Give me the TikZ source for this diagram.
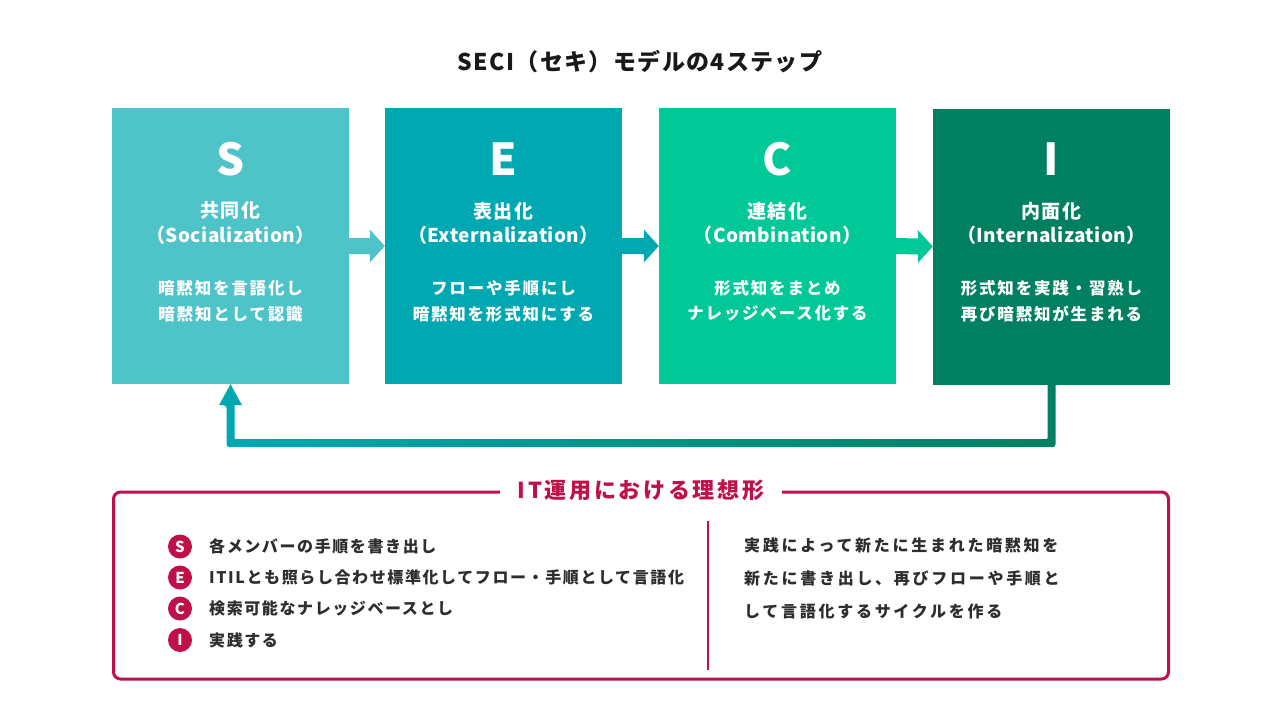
\documentclass[tikz,border=0pt]{standalone}
\usepackage{fontspec}
\setmainfont{Noto Sans CJK JP}
\newfontfamily\jptitle{Noto Sans CJK JP}[LetterSpace=6]
\newfontfamily\jpname{Noto Sans CJK JP}[LetterSpace=8]
\newfontfamily\jpen{Noto Sans CJK JP}[LetterSpace=2]
\newfontfamily\jpdesc{Noto Sans CJK JP}[LetterSpace=11]
\newfontfamily\jpitem{Noto Sans CJK JP}[LetterSpace=10]
\newfontfamily\jpright{Noto Sans CJK JP}[LetterSpace=17]
\newfontfamily\jpptitle{Noto Sans CJK JP}[LetterSpace=12]
\usetikzlibrary{calc}
\definecolor{cS}{RGB}{78,195,200}
\definecolor{cE}{RGB}{0,168,178}
\definecolor{cC}{RGB}{0,200,150}
\definecolor{cI}{RGB}{0,128,96}
\definecolor{crim}{RGB}{192,16,72}
\definecolor{txt}{RGB}{45,45,45}
\definecolor{ttl}{RGB}{25,25,25}
\tikzset{
  seci/.style={draw=none, inner sep=0pt, minimum width=237pt, minimum height=276pt},
  letter/.style={inner sep=0pt, text=white, font=\bfseries\fontsize{44}{48}\selectfont},
  nm/.style={inner sep=0pt, text=white, font=\jpname\bfseries\fontsize{19}{22}\selectfont},
  en/.style={inner sep=0pt, text=white, font=\jpen\bfseries\fontsize{19}{22}\selectfont},
  desc/.style={inner sep=0pt, text=white, font=\jpdesc\bfseries\fontsize{16.5}{20}\selectfont},
  panel/.style={draw=crim, line width=3pt, rounded corners=7pt, minimum width=1055pt, minimum height=187pt, inner sep=0pt},
  ptitle/.style={fill=white, text=crim, inner xsep=18pt, inner ysep=3pt, font=\jpptitle\bfseries\fontsize{22}{25}\selectfont},
  badge/.style={circle, fill=crim, minimum size=24pt, inner sep=0pt, text=white, font=\bfseries\fontsize{15}{16}\selectfont},
  item/.style={anchor=west, inner sep=0pt, text=txt, font=\jpitem\bfseries\fontsize{16}{19}\selectfont},
  rtext/.style={anchor=west, inner sep=0pt, text=txt, font=\jpright\bfseries\fontsize{16}{19}\selectfont},
}
\newcommand\secibox[9]{%
  \node[seci, fill=#4] (#1) at (#2,#3) {};
  \node[letter] (#1-l) at ($(#1.north)+(0,51)$) {#5};
  \node[nm] (#1-n) at ($(#1.north)+(0,103)$) {#6};
  \node[en] (#1-e) at ($(#1.north)+(0,127)$) {#7};
  \node[desc] (#1-d1) at ($(#1.north)+(0,180)$) {#8};
  \node[desc] (#1-d2) at ($(#1.north)+(0,206)$) {#9};
}
\newcommand\seciarrow[3]{%
  \fill[#3] ($(#1.east)+(0,-8)$) -- ($(#2.west)+(-15,-8)$) -- ($(#2.west)+(-15,-16.5)$)
    -- (#2.west) -- ($(#2.west)+(-15,16.5)$) -- ($(#2.west)+(-15,8)$) -- ($(#1.east)+(0,8)$) -- cycle;
}
\begin{document}
\begin{tikzpicture}[x=1pt, y=-1pt]
\useasboundingbox[fill=white] (0,0) rectangle (1280,720);

\node[inner sep=0pt, text=ttl, font=\jptitle\bfseries\fontsize{23}{27}\selectfont] (title) at (640,62) {SECI（セキ）モデルの4ステップ};

\secibox{S}{230.5}{246}{cS}{S}{共同化}{（Socialization）}{暗黙知を言語化し}{暗黙知として認識}
\secibox{E}{503.5}{246}{cE}{E}{表出化}{（Externalization）}{フローや手順にし}{暗黙知を形式知にする}
\secibox{C}{777.5}{246}{cC}{C}{連結化}{（Combination）}{形式知をまとめ}{ナレッジベース化する}
\secibox{I}{1051.5}{246.5}{cI}{I}{内面化}{（Internalization）}{形式知を実践・習熟し}{再び暗黙知が生まれる}

\seciarrow{S}{E}{cS}
\seciarrow{E}{C}{cE}
\seciarrow{C}{I}{cC}

% feedback loop I -> S
\coordinate (mid) at ($(I.south)+(0,58.5)$);
\shade[left color=cE, right color=cI]
  ($(I.south)+(4,0)$) [rounded corners=3pt] -- ($(I.south |- mid)+(4,4)$) -- ($(S.south |- mid)+(-4,4)$)
  -- ($(S.south)+(-4,21)$) [sharp corners] -- ($(S.south)+(-11.5,21)$) -- (S.south)
  -- ($(S.south)+(11.5,21)$) -- ($(S.south)+(4,21)$) [rounded corners=1pt] -- ($(S.south |- mid)+(4,-4)$)
  -- ($(I.south |- mid)+(-4,-4)$) [sharp corners] -- ($(I.south)+(-4,0)$) -- cycle;

% bottom panel
\node[panel] (panel) at (641,585.5) {};
\node[ptitle] (pt) at (panel.north) {IT運用における理想形};
\draw[crim, line width=1.5pt] ($(panel.north)+(67,30)$) coordinate (dtop) -- ($(panel.south)+(67,-11)$) coordinate (dbot);

\node[badge] (bS) at (180,546.5) {S};
\node[badge] (bE) at (180,577.5) {E};
\node[badge] (bC) at (180,608.5) {C};
\node[badge] (bI) at (180,640) {I};
\node[item] (tS) at (209,546.5) {各メンバーの手順を書き出し};
\node[item] (tE) at (209,577.5) {ITILとも照らし合わせ標準化してフロー・手順として言語化};
\node[item] (tC) at (209,608.5) {検索可能なナレッジベースとし};
\node[item] (tI) at (209,640) {実践する};

\node[rtext] (r1) at (744,545) {実践によって新たに生まれた暗黙知を};
\node[rtext] (r2) at (744,578) {新たに書き出し、再びフローや手順と};
\node[rtext] (r3) at (744,611) {して言語化するサイクルを作る};
\end{tikzpicture}
\end{document}
